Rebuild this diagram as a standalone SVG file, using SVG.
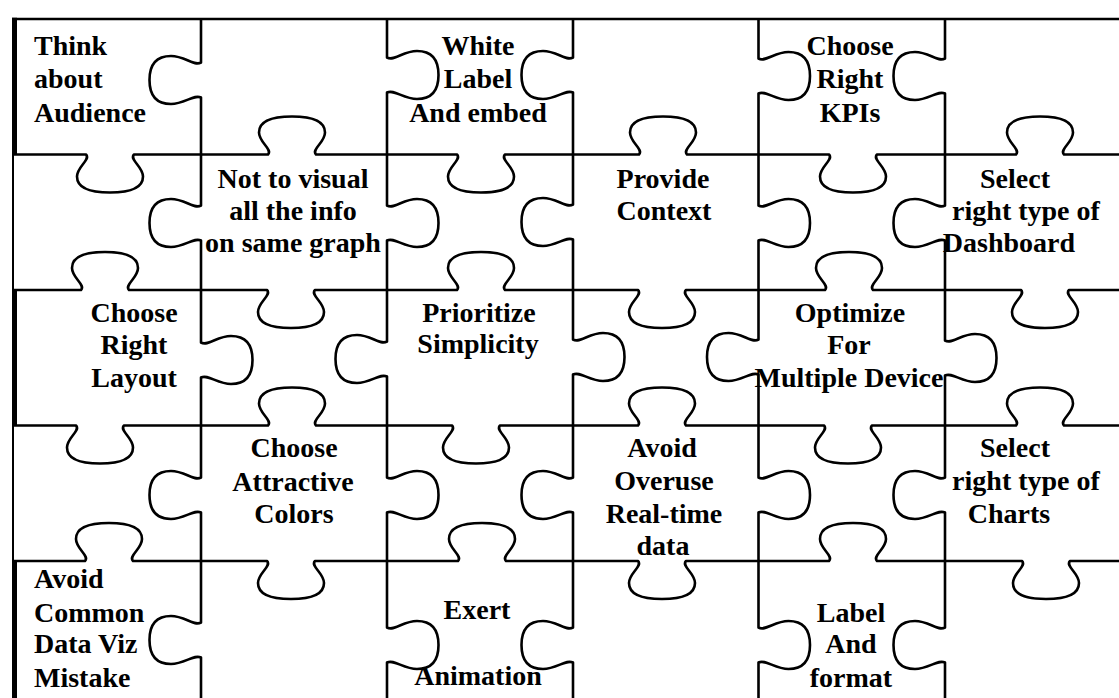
<svg xmlns="http://www.w3.org/2000/svg" width="1119" height="698" viewBox="0 0 1119 698">
<style>
.cut{fill:none;stroke:#000;stroke-width:2.6;stroke-linejoin:round}
.bt{fill:none;stroke:#000;stroke-width:5}
.bn{fill:none;stroke:#000;stroke-width:2}
text{font-family:"Liberation Serif","Times New Roman",serif;font-weight:bold;font-size:28px;fill:#000}
.c{text-anchor:middle}
</style>
<rect width="1119" height="698" fill="#fff"/>
<g id="connectors">
<path class="cut" d="M 12 19 H 1119"/>
<path class="cut" d="M 12 154.5 H 86 c 5,5 -9,12 -9,22 c 0,12 13,16 33,16 c 20,0 33,-4 33,-16 c 0,-10 -14,-17 -9,-22 H 268 c 5,-5 -9,-12 -9,-22 c 0,-12 13,-16 33,-16 c 20,0 33,4 33,16 c 0,10 -14,17 -9,22 H 457 c 5,5 -9,12 -9,22 c 0,12 13,16 33,16 c 20,0 33,-4 33,-16 c 0,-10 -14,-17 -9,-22 H 639 c 5,-5 -9,-12 -9,-22 c 0,-12 13,-16 33,-16 c 20,0 33,4 33,16 c 0,10 -14,17 -9,22 H 829 c 5,5 -9,12 -9,22 c 0,12 13,16 33,16 c 20,0 33,-4 33,-16 c 0,-10 -14,-17 -9,-22 H 1016 c 5,-5 -9,-12 -9,-22 c 0,-12 13,-16 33,-16 c 20,0 33,4 33,16 c 0,10 -14,17 -9,22 H 1119"/>
<path class="cut" d="M 12 290 H 81 c 5,-5 -9,-12 -9,-22 c 0,-12 13,-16 33,-16 c 20,0 33,4 33,16 c 0,10 -14,17 -9,22 H 267 c 5,5 -9,12 -9,22 c 0,12 13,16 33,16 c 20,0 33,-4 33,-16 c 0,-10 -14,-17 -9,-22 H 457 c 5,-5 -9,-12 -9,-22 c 0,-12 13,-16 33,-16 c 20,0 33,4 33,16 c 0,10 -14,17 -9,22 H 638 c 5,5 -9,12 -9,22 c 0,12 13,16 33,16 c 20,0 33,-4 33,-16 c 0,-10 -14,-17 -9,-22 H 825 c 5,-5 -9,-12 -9,-22 c 0,-12 13,-16 33,-16 c 20,0 33,4 33,16 c 0,10 -14,17 -9,22 H 1021 c 5,5 -9,12 -9,22 c 0,12 13,16 33,16 c 20,0 33,-4 33,-16 c 0,-10 -14,-17 -9,-22 H 1119"/>
<path class="cut" d="M 12 425.5 H 76 c 5,5 -9,12 -9,22 c 0,12 13,16 33,16 c 20,0 33,-4 33,-16 c 0,-10 -14,-17 -9,-22 H 268 c 5,-5 -9,-12 -9,-22 c 0,-12 13,-16 33,-16 c 20,0 33,4 33,16 c 0,10 -14,17 -9,22 H 452 c 5,5 -9,12 -9,22 c 0,12 13,16 33,16 c 20,0 33,-4 33,-16 c 0,-10 -14,-17 -9,-22 H 638 c 5,-5 -9,-12 -9,-22 c 0,-12 13,-16 33,-16 c 20,0 33,4 33,16 c 0,10 -14,17 -9,22 H 824 c 5,5 -9,12 -9,22 c 0,12 13,16 33,16 c 20,0 33,-4 33,-16 c 0,-10 -14,-17 -9,-22 H 1016 c 5,-5 -9,-12 -9,-22 c 0,-12 13,-16 33,-16 c 20,0 33,4 33,16 c 0,10 -14,17 -9,22 H 1119"/>
<path class="cut" d="M 12 561 H 85 c 5,-5 -9,-12 -9,-22 c 0,-12 13,-16 33,-16 c 20,0 33,4 33,16 c 0,10 -14,17 -9,22 H 267 c 5,5 -9,12 -9,22 c 0,12 13,16 33,16 c 20,0 33,-4 33,-16 c 0,-10 -14,-17 -9,-22 H 458 c 5,-5 -9,-12 -9,-22 c 0,-12 13,-16 33,-16 c 20,0 33,4 33,16 c 0,10 -14,17 -9,22 H 638 c 5,5 -9,12 -9,22 c 0,12 13,16 33,16 c 20,0 33,-4 33,-16 c 0,-10 -14,-17 -9,-22 H 829 c 5,-5 -9,-12 -9,-22 c 0,-12 13,-16 33,-16 c 20,0 33,4 33,16 c 0,10 -14,17 -9,22 H 1022 c 5,5 -9,12 -9,22 c 0,12 13,16 33,16 c 20,0 33,-4 33,-16 c 0,-10 -14,-17 -9,-22 H 1119"/>
<path class="cut" d="M 201 19 V 62.5 c -7,4 -16,-6.5 -30,-6.5 c -16,0 -21.5,9.5 -21.5,24 c 0,14.5 5.5,24 21.5,24 c 13.5,0 23,-10 30,-6.5 V 205.5 c -7,4 -16,-6.5 -30,-6.5 c -16,0 -21.5,9.5 -21.5,24 c 0,14.5 5.5,24 21.5,24 c 13.5,0 23,-10 30,-6.5 V 342.5 c 7,4 16,-6.5 30,-6.5 c 16,0 21.5,9.5 21.5,24 c 0,14.5 -5.5,24 -21.5,24 c -13.5,0 -23,-10 -30,-6.5 V 477.5 c -7,4 -16,-6.5 -30,-6.5 c -16,0 -21.5,9.5 -21.5,24 c 0,14.5 5.5,24 21.5,24 c 13.5,0 23,-10 30,-6.5 V 622.5 c -7,4 -16,-6.5 -30,-6.5 c -16,0 -21.5,9.5 -21.5,24 c 0,14.5 5.5,24 21.5,24 c 13.5,0 23,-10 30,-6.5 V 698"/>
<path class="cut" d="M 387 19 V 57.5 c 7,4 16,-6.5 30,-6.5 c 16,0 21.5,9.5 21.5,24 c 0,14.5 -5.5,24 -21.5,24 c -13.5,0 -23,-10 -30,-6.5 V 205.5 c 7,4 16,-6.5 30,-6.5 c 16,0 21.5,9.5 21.5,24 c 0,14.5 -5.5,24 -21.5,24 c -13.5,0 -23,-10 -30,-6.5 V 341.5 c -7,4 -16,-6.5 -30,-6.5 c -16,0 -21.5,9.5 -21.5,24 c 0,14.5 5.5,24 21.5,24 c 13.5,0 23,-10 30,-6.5 V 477.5 c 7,4 16,-6.5 30,-6.5 c 16,0 21.5,9.5 21.5,24 c 0,14.5 -5.5,24 -21.5,24 c -13.5,0 -23,-10 -30,-6.5 V 627.5 c 7,4 16,-6.5 30,-6.5 c 16,0 21.5,9.5 21.5,24 c 0,14.5 -5.5,24 -21.5,24 c -13.5,0 -23,-10 -30,-6.5 V 698"/>
<path class="cut" d="M 573 19 V 57.5 c -7,4 -16,-6.5 -30,-6.5 c -16,0 -21.5,9.5 -21.5,24 c 0,14.5 5.5,24 21.5,24 c 13.5,0 23,-10 30,-6.5 V 204.5 c -7,4 -16,-6.5 -30,-6.5 c -16,0 -21.5,9.5 -21.5,24 c 0,14.5 5.5,24 21.5,24 c 13.5,0 23,-10 30,-6.5 V 339.5 c 7,4 16,-6.5 30,-6.5 c 16,0 21.5,9.5 21.5,24 c 0,14.5 -5.5,24 -21.5,24 c -13.5,0 -23,-10 -30,-6.5 V 477.5 c -7,4 -16,-6.5 -30,-6.5 c -16,0 -21.5,9.5 -21.5,24 c 0,14.5 5.5,24 21.5,24 c 13.5,0 23,-10 30,-6.5 V 627.5 c -7,4 -16,-6.5 -30,-6.5 c -16,0 -21.5,9.5 -21.5,24 c 0,14.5 5.5,24 21.5,24 c 13.5,0 23,-10 30,-6.5 V 698"/>
<path class="cut" d="M 758.5 19 V 58.5 c 7,4 16,-6.5 30,-6.5 c 16,0 21.5,9.5 21.5,24 c 0,14.5 -5.5,24 -21.5,24 c -13.5,0 -23,-10 -30,-6.5 V 205.5 c 7,4 16,-6.5 30,-6.5 c 16,0 21.5,9.5 21.5,24 c 0,14.5 -5.5,24 -21.5,24 c -13.5,0 -23,-10 -30,-6.5 V 339.5 c -7,4 -16,-6.5 -30,-6.5 c -16,0 -21.5,9.5 -21.5,24 c 0,14.5 5.5,24 21.5,24 c 13.5,0 23,-10 30,-6.5 V 477.5 c 7,4 16,-6.5 30,-6.5 c 16,0 21.5,9.5 21.5,24 c 0,14.5 -5.5,24 -21.5,24 c -13.5,0 -23,-10 -30,-6.5 V 627.5 c 7,4 16,-6.5 30,-6.5 c 16,0 21.5,9.5 21.5,24 c 0,14.5 -5.5,24 -21.5,24 c -13.5,0 -23,-10 -30,-6.5 V 698"/>
<path class="cut" d="M 945 19 V 58.5 c -7,4 -16,-6.5 -30,-6.5 c -16,0 -21.5,9.5 -21.5,24 c 0,14.5 5.5,24 21.5,24 c 13.5,0 23,-10 30,-6.5 V 205.5 c -7,4 -16,-6.5 -30,-6.5 c -16,0 -21.5,9.5 -21.5,24 c 0,14.5 5.5,24 21.5,24 c 13.5,0 23,-10 30,-6.5 V 340.5 c 7,4 16,-6.5 30,-6.5 c 16,0 21.5,9.5 21.5,24 c 0,14.5 -5.5,24 -21.5,24 c -13.5,0 -23,-10 -30,-6.5 V 477.5 c -7,4 -16,-6.5 -30,-6.5 c -16,0 -21.5,9.5 -21.5,24 c 0,14.5 5.5,24 21.5,24 c 13.5,0 23,-10 30,-6.5 V 627.5 c -7,4 -16,-6.5 -30,-6.5 c -16,0 -21.5,9.5 -21.5,24 c 0,14.5 5.5,24 21.5,24 c 13.5,0 23,-10 30,-6.5 V 698"/>
<path class="bt" d="M 14.5 17.7 V 154.5 M 14.5 290 V 425.5 M 14.5 561 V 698"/>
<path class="bn" d="M 13 154.5 V 290 M 13 425.5 V 561"/>
</g>
<g id="piece-think-about-audience">
<text x="34" y="55">Think</text><text x="34" y="88">about</text><text x="34" y="122">Audience</text>
</g>
<g id="piece-white-label" class="c">
<text x="478" y="55">White</text><text x="478" y="88">Label</text><text x="478" y="122">And embed</text>
</g>
<g id="piece-choose-kpis" class="c">
<text x="850" y="55">Choose</text><text x="850" y="88">Right</text><text x="850" y="122">KPIs</text>
</g>
<g id="piece-not-to-visual" class="c">
<text x="293" y="188">Not to visual</text><text x="293" y="220">all the info</text><text x="293" y="252">on same graph</text>
</g>
<g id="piece-provide-context" class="c">
<text x="663" y="188">Provide</text><text x="664" y="220">Context</text>
</g>
<g id="piece-select-dashboard" class="c">
<text x="1015" y="188">Select</text><text x="1026" y="220">right type of</text><text x="1009" y="252">Dashboard</text>
</g>
<g id="piece-choose-layout" class="c">
<text x="134" y="322">Choose</text><text x="134" y="354">Right</text><text x="134" y="387">Layout</text>
</g>
<g id="piece-prioritize-simplicity" class="c">
<text x="479" y="322">Prioritize</text><text x="478" y="353">Simplicity</text>
</g>
<g id="piece-optimize-devices" class="c">
<text x="850" y="322">Optimize</text><text x="849" y="354">For</text><text x="849" y="387">Multiple Device</text>
</g>
<g id="piece-attractive-colors" class="c">
<text x="294" y="457">Choose</text><text x="293" y="491">Attractive</text><text x="294" y="523">Colors</text>
</g>
<g id="piece-avoid-realtime" class="c">
<text x="662" y="457">Avoid</text><text x="664" y="490">Overuse</text><text x="664" y="523">Real-time</text><text x="663" y="555">data</text>
</g>
<g id="piece-select-charts" class="c">
<text x="1015" y="457">Select</text><text x="1026" y="490">right type of</text><text x="1009" y="523">Charts</text>
</g>
<g id="piece-avoid-mistake">
<text x="34" y="588">Avoid</text><text x="34" y="622">Common</text><text x="34" y="653">Data Viz</text><text x="34" y="687">Mistake</text>
</g>
<g id="piece-exert-animation" class="c">
<text x="477" y="619">Exert</text><text x="478" y="685">Animation</text>
</g>
<g id="piece-label-format" class="c">
<text x="851" y="622">Label</text><text x="851" y="653">And</text><text x="851" y="687">format</text>
</g>
</svg>
